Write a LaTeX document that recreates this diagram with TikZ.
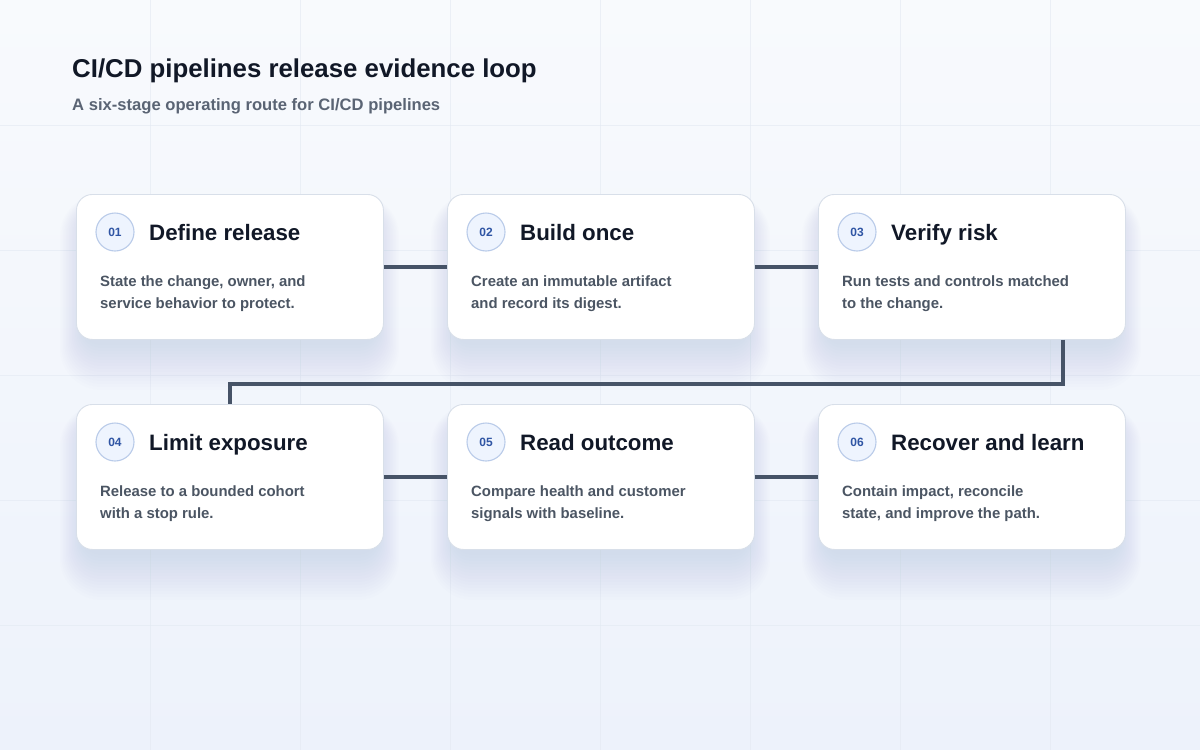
\documentclass[tikz,border=0pt]{standalone}
\usepackage{fontspec}
\setmainfont{Liberation Sans}
\definecolor{bgA}{HTML}{F8FAFD}
\definecolor{bgB}{HTML}{EDF2FB}
\definecolor{gridc}{HTML}{E3E9F2}
\definecolor{cardline}{HTML}{D8DFE9}
\definecolor{circfill}{HTML}{EEF4FE}
\definecolor{circline}{HTML}{B9CBE9}
\definecolor{numc}{HTML}{2F55A4}
\definecolor{titlec}{HTML}{111827}
\definecolor{subc}{HTML}{5A6474}
\definecolor{bodyc}{HTML}{4B5563}
\definecolor{linkc}{HTML}{465367}
\definecolor{shadc}{HTML}{8090B0}
\tikzset{
  card/.style={draw=cardline, line width=0.9pt, fill=white, rounded corners=16pt,
    minimum width=307pt, minimum height=145pt, inner sep=0pt},
  numcirc/.style={circle, draw=circline, line width=1.1pt, fill=circfill, minimum size=38pt, inner sep=0pt,
    font=\fontsize{12}{12}\bfseries, text=numc},
  ctitle/.style={anchor=base west, inner sep=0pt, font=\fontsize{22.3}{24}\bfseries, text=titlec},
  cbody/.style={anchor=base west, inner sep=0pt, align=left, font=\fontsize{14.9}{22}\bfseries, text=bodyc},
  link/.style={draw=linkc, line width=3.6pt},
}
\begin{document}
\begin{tikzpicture}[x=1pt,y=-1pt]
\useasboundingbox (0,0) rectangle (1200,750);
\shade[top color=bgA, bottom color=bgB] (0,0) rectangle (1200,750);
\foreach \gx in {150,300,...,1050} \draw[gridc, line width=0.6pt, opacity=0.6] (\gx,0) -- (\gx,750);
\foreach \gy in {125,250,...,625} \draw[gridc, line width=0.6pt, opacity=0.6] (0,\gy) -- (1200,\gy);

\node[anchor=base west, inner sep=0pt, font=\fontsize{25.8}{30}\bfseries, text=titlec] (title) at (72,77) {CI/CD pipelines release evidence loop};
\node[anchor=base west, inner sep=0pt, font=\fontsize{16.6}{20}\bfseries, text=subc] (sub) at (72,110) {A six-stage operating route for CI/CD pipelines};

\foreach \n/\x/\y/\num/\t/\la/\lb in {
  c1/76/194/01/{Define release}/{State the change, owner, and}/{service behavior to protect.},
  c2/447/194/02/{Build once}/{Create an immutable artifact}/{and record its digest.},
  c3/818/194/03/{Verify risk}/{Run tests and controls matched}/{to the change.},
  c4/76/404/04/{Limit exposure}/{Release to a bounded cohort}/{with a stop rule.},
  c5/447/404/05/{Read outcome}/{Compare health and customer}/{signals with baseline.},
  c6/818/404/06/{Recover and learn}/{Contain impact, reconcile}/{state, and improve the path.}}{
  \foreach \i in {1,...,16}{
    \fill[shadc, opacity=0.012, rounded corners={16pt+\i*1.6pt}]
      (\x+8-\i*1.5, \y+16-\i*1.0) rectangle (\x+299+\i*1.5, \y+148+\i*3.0);
  }
  \node[card, anchor=north west] (\n) at (\x,\y) {};
  \node[numcirc] (\n num) at ([xshift=39pt,yshift=-38pt]\n.north west) {\num};
  \node[ctitle] (\n t) at ([xshift=73pt,yshift=-46pt]\n.north west) {\t};
  \node[cbody] (\n b) at ([xshift=24pt,yshift=-114pt]\n.north west) {\la\\\lb};
}

\draw[link] (c1.east) -- (c2.west);
\draw[link] (c2.east) -- (c3.west);
\draw[link] ([xshift=91pt]c3.south) -- ++(0,44) -| (c4.north);
\draw[link] (c4.east) -- (c5.west);
\draw[link] (c5.east) -- (c6.west);
\end{tikzpicture}
\end{document}
